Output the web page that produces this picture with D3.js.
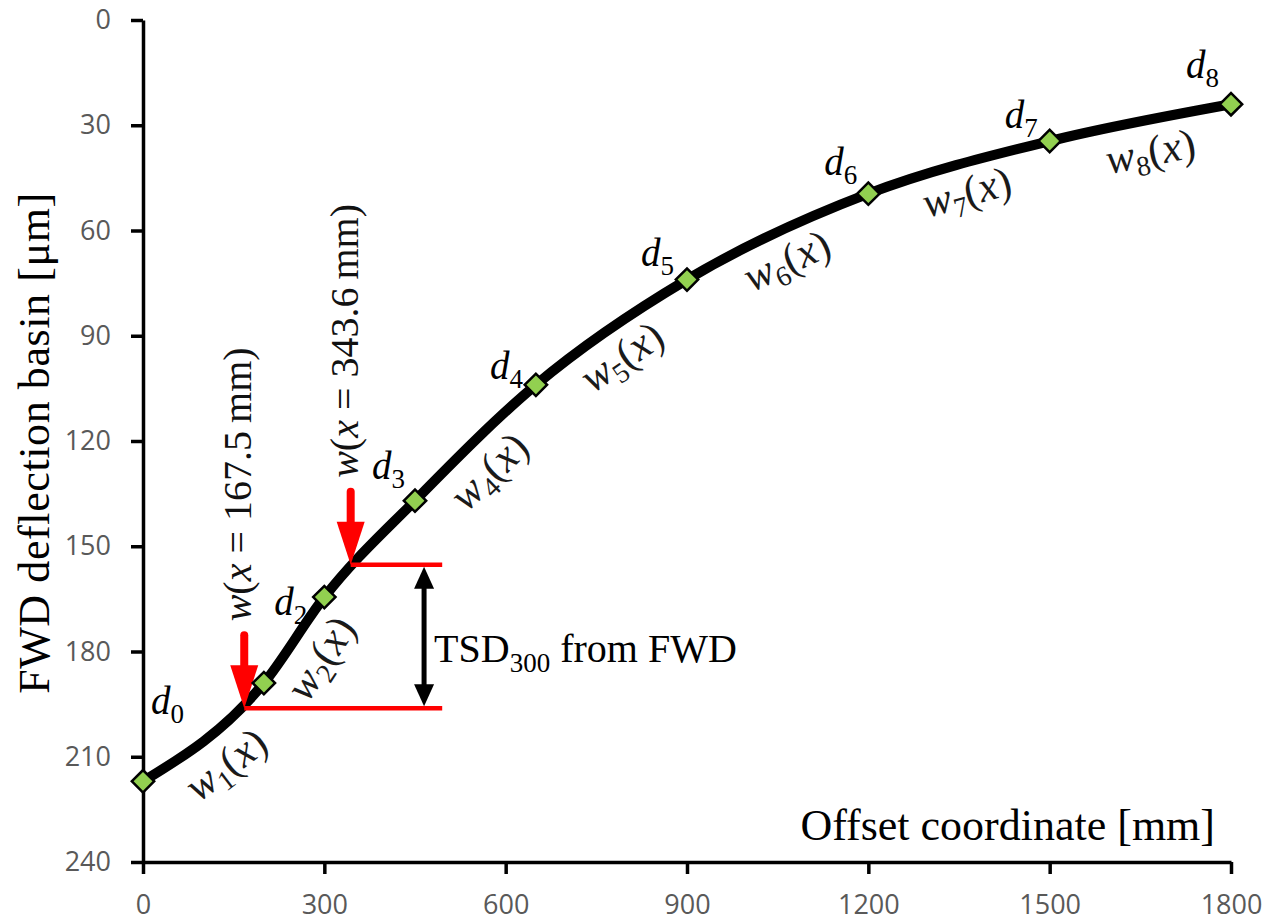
<!DOCTYPE html>
<html><head><meta charset="utf-8">
<script src="https://cdn.jsdelivr.net/npm/d3@7/dist/d3.min.js"></script>
<style>body{margin:0;background:#fff}svg{display:block}</style>
</head><body>
<svg id="c" width="1278" height="922"></svg>
<script>
// ---------- data ----------
const offsets = [0, 200, 300, 450, 650, 900, 1200, 1500, 1800];      // mm
const deflections = [217, 189, 164.5, 137, 104, 74, 49.5, 34.5, 24]; // µm
const xTicks = [0, 300, 600, 900, 1200, 1500, 1800];
const yTicks = [0, 30, 60, 90, 120, 150, 180, 210, 240];
const pointLabels = ["0", "", "2", "3", "4", "5", "6", "7", "8"];   // d_i subscripts
const segmentLabels = ["1", "2", "", "4", "5", "6", "7", "8"];     // w_i(x) for segment i
const tsdOffsets = [167.5, 343.6];        // mm
const tsdValues = [196.2, 155.3];         // µm, w at those offsets
const tsdTexts = ["167.5", "343.6"];
const tsdRightEnd = 495;   // mm, end of red reference lines
const tsdArrowX = 465;     // mm, black double arrow

// ---------- layout ----------
const W = 1278, H = 922;
const M = {left: 143, right: 47, top: 20, bottom: 60};
const svg = d3.select("#c");
const x = d3.scaleLinear().domain([0, 1800]).range([M.left, W - M.right]);
const y = d3.scaleLinear().domain([0, 240]).range([M.top, H - M.bottom]);
const serif = "'Liberation Serif','Times New Roman',serif";

// axes
const yAxis = svg.append("g").attr("transform", `translate(${M.left},0)`)
  .call(d3.axisLeft(y).tickValues(yTicks).tickFormat(d3.format("d")).tickSize(12).tickSizeOuter(0).tickPadding(20));
const xAxis = svg.append("g").attr("transform", `translate(0,${H - M.bottom})`)
  .call(d3.axisBottom(x).tickValues(xTicks).tickFormat(d3.format("d")).tickSize(12).tickSizeOuter(0).tickPadding(21));
[xAxis, yAxis].forEach(g => {
  g.select(".domain").attr("stroke", "#000").attr("stroke-width", 3.5);
  g.selectAll(".tick line").attr("stroke", "#000").attr("stroke-width", 3.5);
  g.selectAll(".tick text").attr("fill", "#595959")
    .style("font-family", "'Open Sans','Noto Sans',sans-serif").style("font-size", "27px");
});

// axis titles
svg.append("text").attr("transform", `translate(49,443) rotate(-90)`)
  .attr("text-anchor", "middle").style("font-family", serif).style("font-size", "44px")
  .style("letter-spacing", "0.6px").attr("fill", "#000").text("FWD deflection basin [μm]");
svg.append("text").attr("x", 1215).attr("y", 840).attr("text-anchor", "end")
  .style("font-family", serif).style("font-size", "44px")
  .attr("fill", "#000").text("Offset coordinate [mm]");

// curve
const pts = offsets.map((o, i) => [o, deflections[i]]);
const line = d3.line().x(d => x(d[0])).y(d => y(d[1])).curve(d3.curveMonotoneX);
const path = svg.append("path").datum(pts).attr("d", line)
  .attr("fill", "none").attr("stroke", "#000").attr("stroke-width", 10).attr("stroke-linecap", "round");

// sample curve (for label orientation)
const pn = path.node();
const L = pn.getTotalLength();
const samples = [];
for (let l = 0; l <= L; l += 0.5) { const p = pn.getPointAtLength(l); samples.push([p.x, p.y]); }
function curveAt(px) {
  let i = d3.bisector(d => d[0]).left(samples, px);
  i = Math.max(1, Math.min(samples.length - 1, i));
  const a = samples[i - 1], b = samples[i];
  const t = (px - a[0]) / ((b[0] - a[0]) || 1);
  const py = a[1] + t * (b[1] - a[1]);
  const j0 = Math.max(0, i - 8), j1 = Math.min(samples.length - 1, i + 8);
  const ang = Math.atan2(samples[j1][1] - samples[j0][1], samples[j1][0] - samples[j0][0]);
  return {x: px, y: py, ang};
}

// TSD construction
const tsdPts = tsdOffsets.map((o, i) => ({x: x(o), y: y(tsdValues[i])}));
tsdPts.forEach(p => {
  svg.append("line").attr("x1", p.x).attr("x2", x(tsdRightEnd)).attr("y1", p.y).attr("y2", p.y)
    .attr("stroke", "#ff0000").attr("stroke-width", 4.5);
});
// red arrows
tsdPts.forEach(p => {
  const top = p.y - 73, headStart = p.y - 43;
  svg.append("line").attr("x1", p.x).attr("x2", p.x).attr("y1", top).attr("y2", headStart + 2)
    .attr("stroke", "#ff0000").attr("stroke-width", 8).attr("stroke-linecap", "round");
  svg.append("path").attr("d", `M${p.x - 14},${headStart} L${p.x + 14},${headStart} L${p.x},${p.y} Z`)
    .attr("fill", "#ff0000");
});
// rotated labels over arrows
tsdPts.forEach((p, i) => {
  const t = svg.append("text").attr("transform", `translate(${p.x + 7},${p.y - 87}) rotate(-90)`)
    .style("font-family", serif).style("font-size", "40px").attr("fill", "#111");
  t.append("tspan").style("font-style", "italic").text("w");
  t.append("tspan").text("(");
  t.append("tspan").style("font-style", "italic").text("x");
  t.append("tspan").text(" = " + tsdTexts[i] + "\u2009mm)");
});
// black double arrow
{
  const ax = x(tsdArrowX), y1 = tsdPts[1].y, y2 = tsdPts[0].y;
  svg.append("line").attr("x1", ax).attr("x2", ax).attr("y1", y1 + 18).attr("y2", y2 - 18)
    .attr("stroke", "#000").attr("stroke-width", 5);
  svg.append("path").attr("d", `M${ax},${y1 + 2} L${ax - 10},${y1 + 24} L${ax + 10},${y1 + 24} Z`).attr("fill", "#000");
  svg.append("path").attr("d", `M${ax},${y2 - 2} L${ax - 10},${y2 - 24} L${ax + 10},${y2 - 24} Z`).attr("fill", "#000");
  const t = svg.append("text").attr("x", ax + 10).attr("y", (y1 + y2) / 2 + 25)
    .style("font-family", serif).style("font-size", "40px").attr("fill", "#000");
  t.append("tspan").text("TSD");
  t.append("tspan").attr("dy", 10).style("font-size", "27px").text("300");
  t.append("tspan").attr("dy", -10).text(" from FWD");
}

// diamonds
svg.append("g").selectAll("path").data(pts).join("path")
  .attr("transform", d => `translate(${x(d[0])},${y(d[1])}) rotate(45)`)
  .attr("d", d3.symbol().type(d3.symbolSquare).size(250))
  .attr("fill", "#92d050").attr("stroke", "#000").attr("stroke-width", 2.5);

// d labels
const dLabelOffset = [[8, -67], null, [-50, 18], [-43, -22], [-46, -6], [-46, -14], [-44, -19], [-45, -13], [-45, -26]];
pts.forEach((d, i) => {
  if (!pointLabels[i]) return;
  const o = dLabelOffset[i];
  const t = svg.append("text").attr("x", x(d[0]) + o[0]).attr("y", y(d[1]) + o[1])
    .style("font-family", serif).style("font-size", "39px").attr("fill", "#000");
  t.append("tspan").style("font-style", "italic").text("d");
  t.append("tspan").attr("dy", 9).style("font-size", "27px").text(pointLabels[i]);
});

// w labels along curve
const wNormal = [31, 31, 0, 31, 29, 29, 28, 31];
const wAlong = [4, 0, 0, -12, -8, -4, 0, 4];
segmentLabels.forEach((s, k) => {
  if (!s) return;
  const i = k + 1;
  const midX = x((offsets[i - 1] + offsets[i]) / 2);
  const c = curveAt(midX);
  const nx = -Math.sin(c.ang), ny = Math.cos(c.ang);
  const tx = Math.cos(c.ang), ty = Math.sin(c.ang);
  const px = c.x + nx * wNormal[k] + tx * wAlong[k], py = c.y + ny * wNormal[k] + ty * wAlong[k];
  const t = svg.append("text")
    .attr("transform", `translate(${px},${py}) rotate(${c.ang * 180 / Math.PI})`)
    .attr("text-anchor", "middle").attr("dy", "0.35em")
    .style("font-family", serif).style("font-size", "43px").attr("fill", "#1a1a1a");
  t.append("tspan").style("font-style", "italic").text("w");
  t.append("tspan").attr("dy", 8).style("font-size", "28px").text(s);
  t.append("tspan").attr("dy", -8).text("(");
  t.append("tspan").style("font-style", "italic").text("x");
  t.append("tspan").text(")");
});
</script>
</body></html>
